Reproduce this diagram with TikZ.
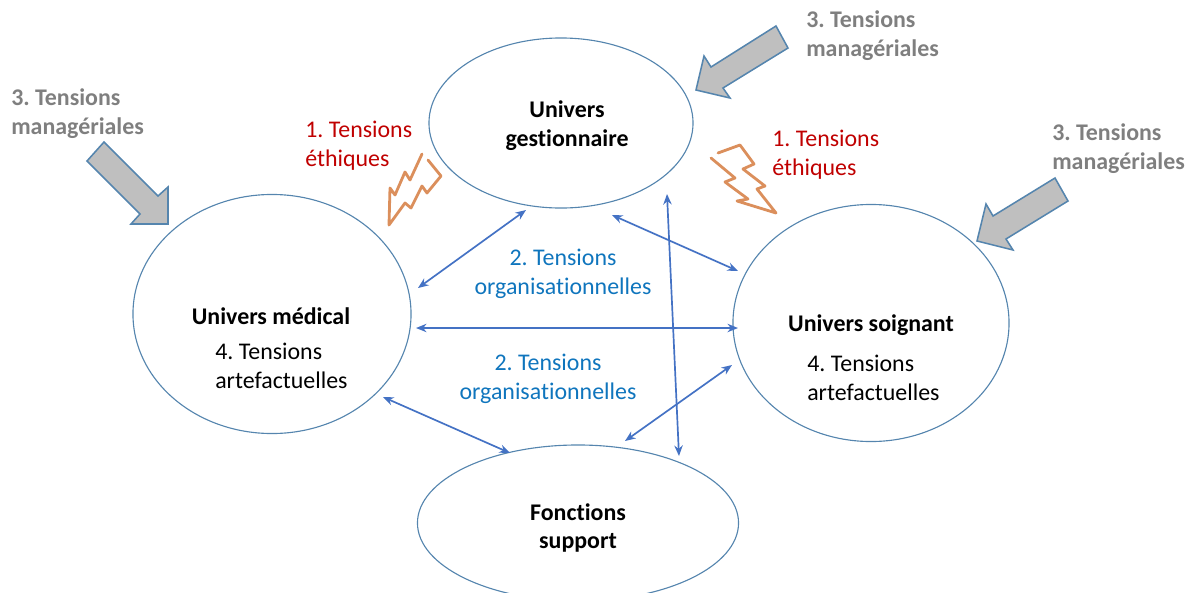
\documentclass[tikz,border=0pt]{standalone}
\usepackage{xcolor}
\usepackage{fontspec}
\setmainfont{Carlito}[Ligatures=NoCommon]
\usepackage{tikz}
\usetikzlibrary{shapes.geometric,arrows.meta}
\tikzset{>={Stealth[length=7.5pt,width=6pt]}}
\definecolor{ringblue}{HTML}{5585AE}
\definecolor{linkblue}{HTML}{4472C4}
\definecolor{textblue}{HTML}{0F75BD}
\definecolor{textred}{HTML}{C00000}
\definecolor{textgrey}{HTML}{7F7F7F}
\definecolor{boltorange}{HTML}{DB8F5C}
\definecolor{blockgrey}{HTML}{BFBFBF}
\tikzset{
  univers/.style={ellipse,draw=ringblue,line width=0.8pt,inner sep=0pt,outer sep=0pt},
  label/.style={font=\fontsize{17}{20.6}\selectfont\frenchspacing,inner sep=0pt,align=left,anchor=west},
  title/.style={font=\fontsize{17}{20.6}\selectfont\bfseries\frenchspacing,inner sep=0pt,align=center},
  managers/.style={label,textgrey,font=\fontsize{17}{20.6}\selectfont\bfseries\frenchspacing},
  orga/.style={label,textblue,align=center,anchor=center},
  link/.style={<->,linkblue,line width=1.2pt},
  bolt/.style={boltorange,line width=2pt,line join=round,line cap=round},
  block/.style={fill=blockgrey,draw=ringblue,line width=1.1pt,line join=miter}
}
\begin{document}
\begin{tikzpicture}[x=0.025cm,y=-0.025cm]
    \clip (0,0) rectangle (1193,593);
    % the four worlds
    \node[univers,minimum width=6.6cm,minimum height=4.25cm] at (561,123) (gest) {};
    \node[univers,minimum width=6.95cm,minimum height=5.975cm] at (272,314) (med) {};
    \node[univers,minimum width=6.9cm,minimum height=5.925cm] at (871,323) (soin) {};
    \node[univers,minimum width=8.025cm,minimum height=3.9cm] at (578,523) (supp) {};
    \node[title] at (567,126) (tgest) {Univers\\gestionnaire};
    \node[title] at (271,316) (tmed) {Univers médical};
    \node[title] at (871,325) (tsoin) {Univers soignant};
    \node[title] at (578,528) (tsupp) {Fonctions\\support};
    \node[label] at (215,366) (amed) {4. Tensions\\artefactuelles};
    \node[label] at (807,378) (asoin) {4. Tensions\\artefactuelles};
    % links
    \draw[link] ([shift={(-35,87)}]gest.center)--([shift={(146,-26)}]med.center);
    \draw[link] ([shift={(51,92)}]gest.center)--([shift={(-133,-52)}]soin.center);
    \draw[link] ([shift={(144,14)}]med.center)--([shift={(-133,5)}]soin.center);
    \draw[link] ([shift={(106,71)}]gest.center)--([shift={(101,-67)}]supp.center);
    \draw[link] ([shift={(111,83)}]med.center)--([shift={(-68,-70)}]supp.center);
    \draw[link] ([shift={(47,-82)}]supp.center)--([shift={(-139,42)}]soin.center);
    \node[orga] at (563,274) (oa) {2. Tensions\\organisationnelles};
    \node[orga] at (548,379) (ob) {2. Tensions\\organisationnelles};
    % ethics
    \node[label,textred] at (305,146) (ea) {1. Tensions\\éthiques};
    \node[label,textred] at (772,155) (eb) {1. Tensions\\éthiques};
    \draw[bolt] (422,154)--(410,180)--(405,172)--(395,195)--(390,188)--(389,225)--(405,203)--(411,208)--(422,186)--(427,193)--(441,176)--(428,160);
    \draw[bolt] (718,153)--(740,145)--(754,164)--(743,169)--(765,186)--(757,189)--(776,213)--(737,201)--(748,199)--(725,182)--(735,178)--(711,158);
    % managers
    \node[managers] at (11,114) (ma) {3. Tensions\\managériales};
    \node[managers] at (806,36) (mb) {3. Tensions\\managériales};
    \node[managers] at (1052,149) (mc) {3. Tensions\\managériales};
    \draw[block] (104,142)--(87,161)--(140,214)--(131,224)--(168,224)--(168,187)--(158,196)--cycle;
    \draw[block] (696,90)--(704,56)--(711,67)--(776,26)--(788,48)--(723,88)--(730,98)--cycle;
    \draw[block] (977,241)--(986,204)--(993,216)--(1055,178)--(1068,201)--(1006,239)--(1013,250)--cycle;
\end{tikzpicture}
\end{document}
